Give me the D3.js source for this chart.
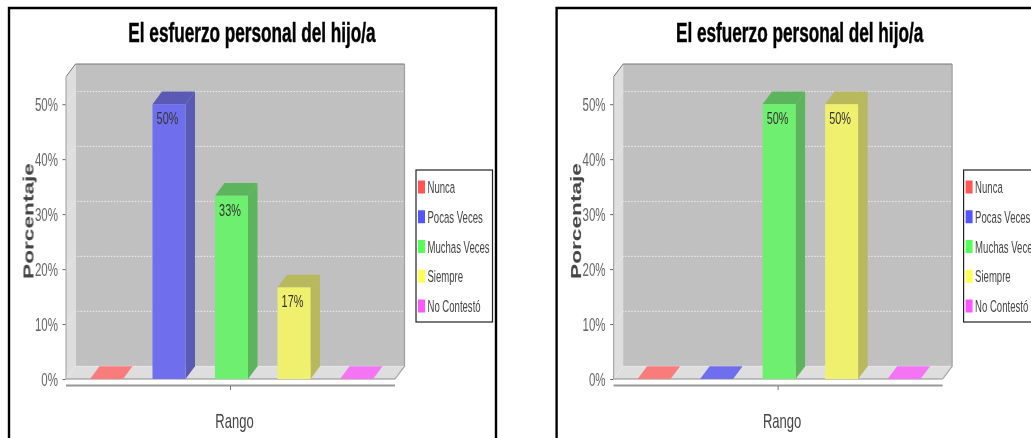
<!DOCTYPE html>
<html><head><meta charset="utf-8">
<script src="https://cdn.jsdelivr.net/npm/d3@7"></script>
<style>html,body{margin:0;padding:0;background:#fff;overflow:hidden}svg{display:block}
text{font-family:"Liberation Sans",Arial,sans-serif}</style></head>
<body><svg id="c" width="1031" height="438"></svg>
<script>
const title = "El esfuerzo personal del hijo/a";
const categories = ["Nunca","Pocas Veces","Muchas Veces","Siempre","No Contestó"];
const valuesLeft = [0,50,33.33,16.67,0];
const valuesRight = [0,0,50,50,0];
const yTicks = [0,10,20,30,40,50];
const frontColors = ["#f97c7c","#6f6fee","#6fef6f","#f0f06f","#f474f4"];
const sideColors = ["#f97c7c","#5a5ab4","#5cb45c","#b8b85c","#f474f4"];
const floorColors = ["#f97c7c","#6f6fee","#6fef6f","#f0f06f","#f474f4"];
const legendColors = ["#ff5555","#5555ff","#55ff55","#ffff55","#ff55ff"];

const svg = d3.select("#c");
const defs = svg.append("defs");
defs.append("filter").attr("id","soft").append("feGaussianBlur").attr("stdDeviation",0.35);

const x = d3.scaleBand().domain(categories).range([90,373]).paddingInner(0.472).paddingOuter(0);
const y = d3.scaleLinear().domain([0,55]).range([379,76.7]);
const legendY = d3.scalePoint().domain(categories).range([187,306]);
const dx = 9.5, dy = -12.7, L = 66, R = 395;
const pts = a => a.map(p=>p.join(",")).join(" ");

function stretched(g, str, px, py, sx, size, opts={}) {
  return g.append("text").attr("transform",`translate(${px},${py}) scale(${sx},1)`)
    .attr("font-size",size).attr("fill",opts.fill||"#333").attr("text-anchor",opts.anchor||"start")
    .attr("font-weight",opts.weight||"normal").attr("filter","url(#soft)").text(str);
}

function panel(offset, values) {
  const g = svg.append("g").attr("transform",`translate(${offset},0)`);
  g.append("path").attr("d","M9,438V8H496V438").attr("fill","none").attr("stroke","#000").attr("stroke-width",2.4);
  stretched(g,title,252,42,0.625,27.5,{anchor:"middle",weight:"bold",fill:"#000"})
    .attr("stroke","#000").attr("stroke-width",0.5);

  const top = y(55), zero = y(0);
  g.append("polygon").attr("points",pts([[L+dx,top+dy],[R+dx,top+dy],[R+dx,zero+dy],[L+dx,zero+dy]])).attr("fill","#c0c0c0");
  g.append("polygon").attr("points",pts([[L,top],[L+dx,top+dy],[L+dx,zero+dy],[L,zero]])).attr("fill","#dedede");
  g.append("polygon").attr("points",pts([[L,zero],[L+dx,zero+dy],[R+dx,zero+dy],[R,zero]])).attr("fill","#dedede");
  g.append("polyline").attr("points",pts([[L,top],[L+dx,top+dy],[R+dx,top+dy]])).attr("fill","none").attr("stroke","#777").attr("stroke-width",1);
  g.append("polyline").attr("points",pts([[R+dx,top+dy],[R+dx,zero+dy],[R,zero]])).attr("fill","none").attr("stroke","#a0a0a0").attr("stroke-width",1.2);
  g.selectAll(".grid").data(yTicks).join("polyline").attr("class","grid")
    .attr("points",d=>pts([[L,y(d)],[L+dx,y(d)+dy],[R+dx,y(d)+dy]]))
    .attr("fill","none").attr("stroke","#eeeeee").attr("stroke-width",1).attr("stroke-dasharray","1.5 1.5");
  g.append("line").attr("x1",L).attr("x2",R).attr("y1",zero).attr("y2",zero).attr("stroke","#8c8c8c").attr("stroke-width",1.2);

  const bars = g.selectAll(".bar").data(categories.map((c,i)=>({c,i,v:values[i]}))).join("g").attr("class","bar");
  bars.append("polygon").attr("fill",d=>d.v>0?sideColors[d.i]:floorColors[d.i])
    .attr("points",d=>{const a=x(d.c),b=a+x.bandwidth(),t=y(d.v);return pts([[a,t],[a+dx,t+dy],[b+dx,t+dy],[b,t]]);});
  bars.filter(d=>d.v>0).append("polygon").attr("fill",d=>sideColors[d.i])
    .attr("points",d=>{const b=x(d.c)+x.bandwidth(),t=y(d.v);return pts([[b,t],[b+dx,t+dy],[b+dx,zero+dy],[b,zero]]);});
  bars.filter(d=>d.v>0).append("rect").attr("fill",d=>frontColors[d.i])
    .attr("x",d=>x(d.c)).attr("y",d=>y(d.v)).attr("width",x.bandwidth()).attr("height",d=>zero-y(d.v));
  bars.filter(d=>d.v>0).each(function(d){
    stretched(d3.select(this),Math.round(d.v)+"%",x(d.c)+x.bandwidth()/2-1.5,y(d.v)+20,0.64,17,{anchor:"middle",fill:"#333"});
  });

  const ax = g.append("g").attr("transform",`translate(${L-0.5},0)`)
    .call(d3.axisLeft(y).tickValues(yTicks).tickFormat(d=>d+"%").tickSize(3).tickSizeOuter(0));
  ax.select(".domain").attr("stroke","#a8a8a8").attr("stroke-width",1.2);
  ax.selectAll(".tick line").attr("stroke","#666");
  ax.selectAll(".tick text").attr("x",0).attr("dy",null).attr("y",6)
    .attr("transform","translate(-7.5,0) scale(0.64,1)").attr("font-size",18).attr("fill","#666")
    .attr("font-family",'"Liberation Sans"').attr("filter","url(#soft)");

  g.append("line").attr("x1",L).attr("x2",R).attr("y1",385.6).attr("y2",385.6).attr("stroke","#999").attr("stroke-width",2);
  g.append("line").attr("x1",230.5).attr("x2",230.5).attr("y1",386).attr("y2",390).attr("stroke","#777");
  stretched(g,"Rango",234.5,428,0.62,21,{anchor:"middle",fill:"#444"});
  g.append("text").attr("transform","translate(33.5,221) rotate(-90) scale(1.62,1)").attr("text-anchor","middle")
    .attr("font-family",'"DejaVu Sans"').attr("font-weight","bold").attr("font-size",14).attr("fill","#444")
    .attr("filter","url(#soft)").text("Porcentaje");

  const lg = g.append("g");
  lg.append("rect").attr("x",416).attr("y",170).attr("width",76.5).attr("height",152)
    .attr("fill","#fff").attr("stroke","#222").attr("stroke-width",1.2);
  categories.forEach((c,i)=>{
    lg.append("rect").attr("x",418).attr("y",legendY(c)-6.5).attr("width",7).attr("height",13).attr("fill",legendColors[i]);
    stretched(lg,c,427.5,legendY(c)+6,0.58,16.5,{fill:"#444"});
  });
}
panel(0,valuesLeft);
panel(547.6,valuesRight);
</script></body></html>
